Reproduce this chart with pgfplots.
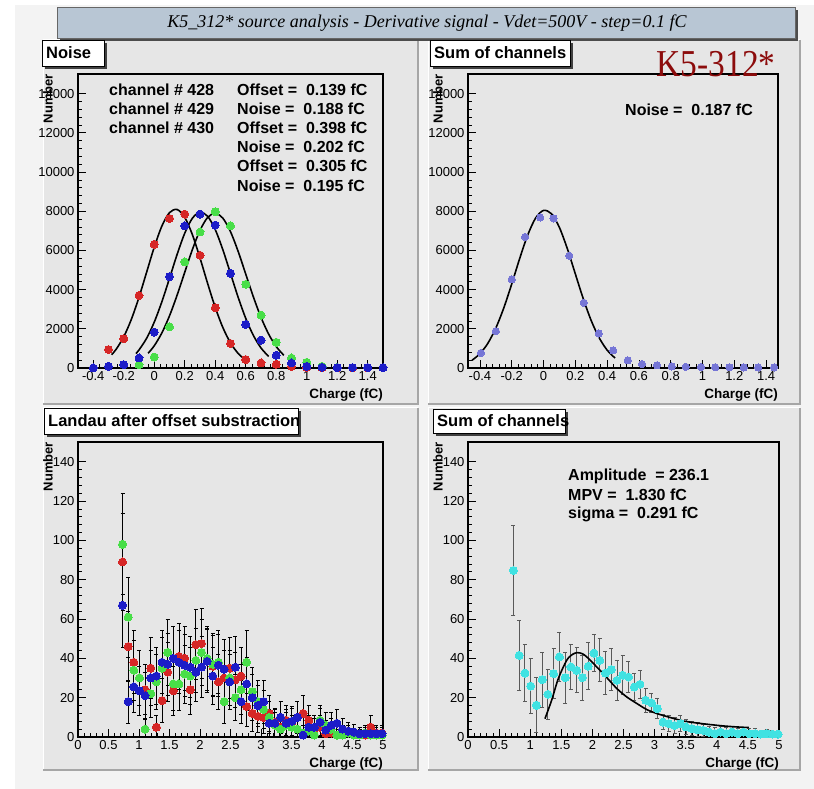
\documentclass[border=0pt]{standalone}
\usepackage{pgfplots}
\pgfplotsset{compat=1.18}
\usepackage{pgfplotstable}
\usepackage{fontspec}
\setmainfont{Liberation Sans}
\newfontfamily\titleserif{Liberation Serif}

\definecolor{padgray}{RGB}{230,230,230}
\definecolor{canvas}{RGB}{243,243,243}
\definecolor{titlefill}{RGB}{184,198,212}
\definecolor{rootred}{RGB}{214,38,38}
\definecolor{rootblue}{RGB}{28,28,200}
\definecolor{rootgreen}{RGB}{72,222,72}
\definecolor{rootslate}{RGB}{118,118,214}
\definecolor{rootcyan}{RGB}{64,226,226}
\definecolor{labelred}{RGB}{140,12,12}

% noise histograms of the three channels (bin centre, entries)
\pgfplotstableread{
x y
-0.3 940
-0.2 1500
-0.1 3700
0.0 6310
0.1 7630
0.2 7850
0.3 5750
0.4 3070
0.5 1250
0.6 430
0.7 256
0.8 190
0.9 85
1.0 30
1.1 20
1.2 10
1.3 10
1.4 10
}\noiseA
\pgfplotstableread{
x y
-0.4 0
-0.3 85
-0.2 170
-0.1 510
0.0 1830
0.1 4660
0.2 7250
0.3 7850
0.4 7290
0.5 4830
0.6 2220
0.7 1420
0.8 650
0.9 256
1.0 85
1.1 40
1.2 20
1.3 20
1.4 20
1.5 20
}\noiseB
\pgfplotstableread{
x y
-0.1 170
0.0 560
0.1 2100
0.2 5410
0.3 6940
0.4 7970
0.5 7250
0.6 4270
0.7 2700
0.8 1310
0.9 510
1.0 290
1.1 85
1.2 30
}\noiseC
% summed noise histogram
\pgfplotstableread{
x y
-0.480 250
-0.394 770
-0.300 1880
-0.200 4520
-0.116 6690
-0.021 7680
0.063 7630
0.162 5720
0.253 3330
0.347 1760
0.438 900
0.530 390
0.620 200
0.714 140
0.806 80
0.895 60
0.990 50
1.080 40
1.170 40
1.260 30
1.350 30
1.450 30
}\noiseSum
% signal spectra per channel: entries and errors
\pgfplotstableread{
x r re g ge b be
0.730 89 24.5 98 25.7 67 21.3
0.8225 46 17.6 61 20.3 18 11.0
0.915 38 16.0 34 15.2 25.5 13.1
1.0075 30 14.2 30 14.2 23.5 12.6
1.100 24 12.7 4 5.2 21 11.9
1.1925 35 15.4 22 12.2 30 14.2
1.285 5 5.8 28 13.8 31 14.5
1.3775 18.5 11.2 35 15.4 38 16.0
1.470 33 14.9 43 17.0 37 15.8
1.5625 23.5 12.6 27 13.5 40 16.4
1.655 41 16.6 27 13.5 38 16.0
1.7475 40 16.4 32 14.7 36.5 15.7
1.840 24 12.7 31 14.5 35.5 15.5
1.9325 47 17.8 39 16.2 33 14.9
2.025 47.5 17.9 43 17.0 35.5 15.5
2.1175 39 16.2 40 16.4 38.5 16.1
2.210 36 15.6 37 15.8 31 14.5
2.3025 28 13.8 38 16.0 36.5 15.7
2.395 30 14.2 18 11.0 34.5 15.3
2.4875 35 15.4 30 14.2 28 13.8
2.580 29 14.0 20 11.6 35.5 15.5
2.6725 31 14.5 24 12.7 18 11.0
2.765 15.5 10.2 38 16.0 27 13.5
2.8575 12 9.0 23 12.5 20 11.6
2.950 10.5 8.4 18 11.0 16 10.4
3.0425 10 8.2 14 9.7 18 11.0
3.135 12 9.0 10 8.2 7 6.9
3.2275 7.5 7.1 6 6.4 7 6.9
3.320 5 5.8 4 5.2 10 8.2
3.4125 8.5 7.6 6 6.4 7 6.9
3.505 7.5 7.1 5 5.8 8 7.4
3.5975 10 8.2 4 5.2 10 8.2
3.690 12 9.0 2 3.7 1 2.6
3.7825 8.5 7.6 3 4.5 5 5.8
3.875 4 5.2 1 2.6 5 5.8
3.9675 5 5.8 8.5 7.6 7.5 7.1
4.060 1.7 3.4 6 6.4 3.5 4.9
4.1525 2 3.7 4 5.2 6 6.4
4.245 1 2.6 1 2.6 7 6.9
4.3375 2 3.7 1 2.6 4 5.2
4.430 3 4.5 2 3.7 3 4.5
4.5225 1 2.6 1 2.6 2.5 4.1
4.615 1.7 3.4 1 2.6 1.7 3.4
4.7075 1 2.6 2 3.7 1.7 3.4
4.800 5 5.8 1 2.6 1.7 3.4
4.8925 2 3.7 1 2.6 1.7 3.4
4.985 2 3.7 1 2.6 1.7 3.4
}\landauCh
% summed signal spectrum
\pgfplotstableread{
x y e
0.730 84.7 23.0
0.8225 41.5 17.6
0.915 32.5 14.4
1.0075 25.9 14.0
1.100 16.1 14.0
1.1925 29.2 14.0
1.285 21.7 12.7
1.3775 32.2 12.7
1.470 40.7 12.5
1.5625 30.2 13.0
1.655 35.6 11.5
1.7475 33.9 11.5
1.840 30.2 11.5
1.9325 36.0 12.0
2.025 42.7 9.5
2.1175 39.0 11.0
2.210 32.5 11.0
2.3025 34.3 10.5
2.395 28.8 10.0
2.4875 31.4 10.0
2.580 30.5 8.0
2.6725 25.4 7.0
2.765 26.8 7.0
2.8575 18.7 6.0
2.950 17.3 5.0
3.0425 14.4 5.0
3.135 7.6 4.0
3.2275 6.8 4.0
3.320 5.9 4.0
3.4125 6.8 4.0
3.505 5.1 4.0
3.5975 4.3 3.5
3.690 3.7 3.5
3.7825 3.4 3.0
3.875 2.5 3.0
3.9675 1.7 3.0
4.060 2.5 3.0
4.1525 1.7 3.0
4.245 2.5 3.0
4.3375 1.7 2.5
4.430 2.5 2.5
4.5225 1.7 2.5
4.615 1.7 2.5
4.7075 1.5 2.0
4.800 1.7 2.0
4.8925 1.5 2.0
4.985 1.5 2.0
}\landauSum

\pgfplotsset{
  rootpad/.style={
    scale only axis,
    anchor=south west,
    axis background/.style={fill=padgray},
    tick pos=left,
    tick align=inside,
    major tick length=8pt,
    minor tick length=4pt,
    tick style={black, line width=0.6pt},
    axis line style={black, line width=1.1pt},
    ticklabel style={font=\fontsize{13}{15}\selectfont},
    scaled ticks=false,
    /pgf/number format/assume math mode=true,
    /pgf/number format/1000 sep={},
    minor x tick num=4,
    minor y tick num=4,
    xlabel={Charge (fC)},
    xlabel style={font=\bfseries\fontsize{13.5}{15}\selectfont, at={(1,0)}, anchor=north east, inner sep=0pt, yshift=-21pt},
    ylabel={Number},
    ylabel style={font=\bfseries\fontsize{13}{15}\selectfont, at={(0,1)}, anchor=south east, inner sep=0pt, yshift=25pt},
  },
  dots/.style={only marks, color=#1, mark=*, mark size=4pt, mark options={draw=#1, fill=#1, line width=0pt}},
  fitline/.style={black, line width=1.6pt, smooth, no markers},
  errdots/.style 2 args={only marks, color=#1, mark=*, mark size=4pt, mark options={draw=#1, fill=#1, line width=0pt},
    error bars/y dir=both, error bars/y explicit,
    error bars/error bar style={#2, line width=0.9pt},
    error bars/error mark options={#2, rotate=90, mark size=2pt, line width=0.9pt}},
}

\newcommand{\pad}[4]{%
  \fill[padgray] (#1,#2) rectangle (#3,#4);
  \draw[white, line width=1pt] (#1,#2) -- (#1,#4) -- (#3,#4);
  \draw[black!35, line width=1.5pt] (#1,#2) -- (#3,#2) -- (#3,#4);
}
\newcommand{\padlabel}[5]{%
  \fill[black!75] (#1+3,#2-3) rectangle (#3+3,#4-3);
  \draw[black, fill=white, line width=0.8pt] (#1,#2) rectangle (#3,#4);
  \node[anchor=west, inner sep=0pt, font=\bfseries\fontsize{16.5}{18}\selectfont] at (#1+4,{(#2+#4)/2}) {#5};
}

\begin{document}
\begin{tikzpicture}[x=1pt,y=1pt]
\path[use as bounding box] (0,0) rectangle (814,789);
\fill[white] (0,0) rectangle (814,789);
\fill[canvas] (15,0) rectangle (814,784);

% pads
\pad{43}{385}{418}{749}
\pad{428}{385}{800}{749}
\pad{43}{19}{418}{381}
\pad{428}{19}{800}{381}

% title banner
\fill[black!70] (60,748) rectangle (798,779);
\draw[black!60, fill=titlefill, line width=0.8pt] (57,751) rectangle (795,782);
\node[font=\titleserif\itshape\fontsize{18}{20}\selectfont] at (427,766)
  {K5\_312* source analysis - Derivative signal - Vdet=500V - step=0.1 fC};

% top left: noise per channel
\begin{axis}[rootpad, at={(78pt,421pt)}, width=305pt, height=294pt,
  xmin=-0.5, xmax=1.5, ymin=0, ymax=15000,
  xtick={-0.4,-0.2,0,0.2,0.4,0.6,0.8,1,1.2,1.4},
  ytick={0,2000,4000,6000,8000,10000,12000,14000}]
\addplot[dots=rootred] table[x=x,y=y] {\noiseA};
\addplot[dots=rootgreen] table[x=x,y=y] {\noiseC};
\addplot[dots=rootblue] table[x=x,y=y] {\noiseB};
\addplot[fitline] coordinates {(-0.28,676) (-0.25,952) (-0.20,1594) (-0.15,2485) (-0.10,3610) (-0.05,4887) (0,6163) (0.05,7241) (0.10,7927) (0.15,8086) (0.20,7684) (0.25,6804) (0.30,5613) (0.35,4315) (0.40,3090) (0.45,2062) (0.50,1282) (0.55,743) (0.60,401)};
\addplot[fitline] coordinates {(-0.12,739) (-0.10,920) (-0.05,1516) (0,2340) (0.05,3381) (0.10,4575) (0.15,5796) (0.20,6877) (0.25,7640) (0.30,7948) (0.35,7741) (0.40,7060) (0.45,6029) (0.50,4822) (0.55,3611) (0.60,2531) (0.65,1662) (0.70,1022) (0.75,588)};
\addplot[fitline] coordinates {(-0.04,753) (0,1134) (0.05,1791) (0.10,2661) (0.15,3719) (0.20,4886) (0.25,6040) (0.30,7023) (0.35,7680) (0.40,7900) (0.45,7643) (0.50,6954) (0.55,5952) (0.60,4791) (0.65,3628) (0.70,2584) (0.75,1731) (0.80,1090) (0.85,646)};
\end{axis}

% top right: summed noise
\begin{axis}[rootpad, at={(468pt,421pt)}, width=310pt, height=294pt,
  xmin=-0.475, xmax=1.475, ymin=0, ymax=15000,
  xtick={-0.4,-0.2,0,0.2,0.4,0.6,0.8,1,1.2,1.4},
  ytick={0,2000,4000,6000,8000,10000,12000,14000}]
\addplot[dots=rootslate, mark size=3.6pt] table[x=x,y=y] {\noiseSum};
\addplot[fitline] coordinates {(-0.45,391) (-0.40,728) (-0.35,1262) (-0.30,2037) (-0.25,3062) (-0.20,4285) (-0.15,5583) (-0.10,6771) (-0.05,7646) (0,8039) (0.05,7868) (0.10,7169) (0.15,6082) (0.20,4804) (0.25,3533) (0.30,2419) (0.35,1542) (0.40,914) (0.45,506)};
\end{axis}

% bottom left: signal per channel
\begin{axis}[rootpad, at={(78pt,52pt)}, width=305pt, height=295pt,
  xmin=0, xmax=5, ymin=0, ymax=150,
  xtick={0,0.5,1,1.5,2,2.5,3,3.5,4,4.5,5},
  ytick={0,20,40,60,80,100,120,140}]
\addplot[errdots={rootred}{black}] table[x=x,y=r,y error=re] {\landauCh};
\addplot[errdots={rootgreen}{black}] table[x=x,y=g,y error=ge] {\landauCh};
\addplot[errdots={rootblue}{black}] table[x=x,y=b,y error=be] {\landauCh};
\end{axis}

% bottom right: summed signal with Landau fit
\begin{axis}[rootpad, at={(468pt,52pt)}, width=311pt, height=295pt,
  xmin=0, xmax=5, ymin=0, ymax=150,
  xtick={0,0.5,1,1.5,2,2.5,3,3.5,4,4.5,5},
  ytick={0,20,40,60,80,100,120,140}]
\addplot[errdots={rootcyan}{black!65}] table[x=x,y=y,y error=e] {\landauSum};
\addplot[fitline] coordinates {(1.237,9.3) (1.345,18.7) (1.452,29.7) (1.587,39.0) (1.68,42.0) (1.758,42.9) (1.84,42.3) (1.91,40.7) (2.071,35.6) (2.232,30.2) (2.394,24.6) (2.555,20.3) (2.716,17.0) (2.877,13.9) (3.039,11.9) (3.253,9.9) (3.468,8.1) (3.684,7.1) (3.898,6.3) (4.113,5.6) (4.329,5.1) (4.516,4.8)};
\end{axis}

% sample name, set over the frame of the summed-noise pad
\node[font=\titleserif\fontsize{38}{40}\selectfont, text=labelred, xscale=0.88, inner sep=0pt] at (716,725) {K5-312*};

% pad titles
\padlabel{42}{723}{104}{749}{Noise}
\padlabel{430}{723}{570}{749}{Sum of channels}
\padlabel{44}{355}{298}{381}{Landau after offset substraction}
\padlabel{433}{356}{565}{380}{Sum of channels}

% fit results
\begin{scope}[every node/.style={anchor=west, inner sep=0pt, font=\bfseries\fontsize{16}{18}\selectfont}]
\node at (109,699) {channel \# 428};
\node at (109,680) {channel \# 429};
\node at (109,661) {channel \# 430};
\node at (237,699) {Offset = \ 0.139 fC};
\node at (237,680) {Noise = \ 0.188 fC};
\node at (237,661) {Offset = \ 0.398 fC};
\node at (237,642) {Noise = \ 0.202 fC};
\node at (237,623) {Offset = \ 0.305 fC};
\node at (237,603) {Noise = \ 0.195 fC};
\node at (625,679) {Noise = \ 0.187 fC};
\node at (568,313) {Amplitude \ = 236.1};
\node at (568,294) {MPV = \ 1.830 fC};
\node at (568,275) {sigma = \ 0.291 fC};
\end{scope}
\end{tikzpicture}
\end{document}
